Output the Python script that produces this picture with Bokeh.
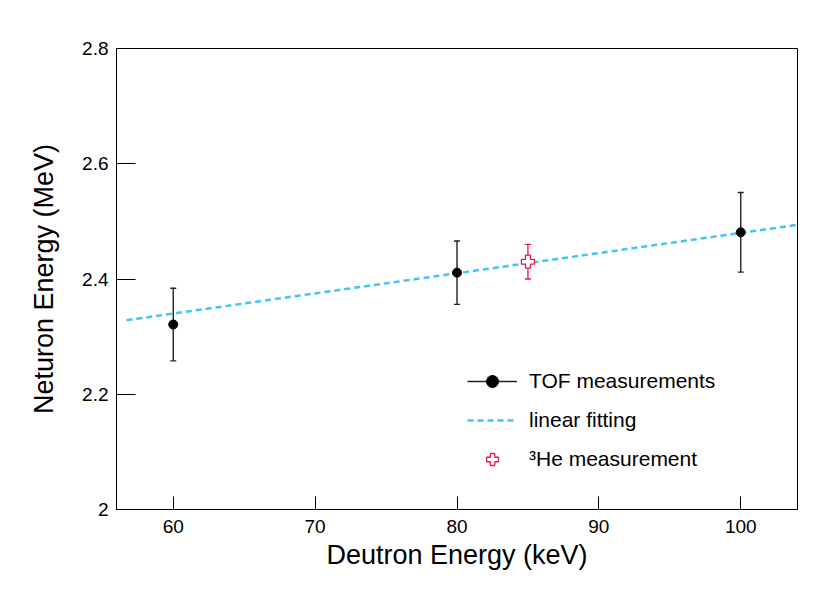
from bokeh.plotting import figure
from bokeh.models import Range1d, FixedTicker, Legend, LegendItem
from bokeh.embed import file_html
from bokeh.resources import INLINE

# TOF measurements
tof_x = [60, 80, 100]
tof_y = [2.321, 2.411, 2.481]
tof_err = [0.063, 0.055, 0.069]

# 3He measurement
he_x = [85]
he_y = [2.430]
he_err = [0.030]

# linear fit endpoints
fit_x = [56.7, 104.0]
fit_y = [2.3285, 2.494]

x_ticks = [60, 70, 80, 90, 100]
y_ticks = [2.0, 2.2, 2.4, 2.6, 2.8]
y_tick_labels = {2.0: "2", 2.2: "2.2", 2.4: "2.4", 2.6: "2.6", 2.8: "2.8"}

FONT = "Liberation Sans"
LINE_C = "#3fc6f2"
RED = "#e31a4a"

p = figure(frame_width=681, frame_height=461, output_backend="svg",
           toolbar_location=None, x_range=Range1d(56, 104), y_range=Range1d(2.0, 2.8),
           min_border_left=116, min_border_right=25, min_border_top=48, min_border_bottom=81)
p.background_fill_color = "white"
p.border_fill_color = "white"
p.outline_line_color = "black"
p.outline_line_width = 1
p.grid.visible = False

# fit line
fit_r = p.line(fit_x, fit_y, line_color=LINE_C, line_width=2.5, line_dash="6 4")

# TOF error bars
lo = [y - e for y, e in zip(tof_y, tof_err)]
hi = [y + e for y, e in zip(tof_y, tof_err)]
seg_r = p.segment(x0=tof_x, y0=lo, x1=tof_x, y1=hi, line_color="#222222", line_width=1.4)
p.scatter(tof_x + tof_x, lo + hi, marker="dash", size=6, line_color="#222222", line_width=1.4)
tof_r = p.scatter(tof_x, tof_y, marker="circle", size=9, fill_color="black", line_color="black")

# He error bars
he_lo = [y - e for y, e in zip(he_y, he_err)]
he_hi = [y + e for y, e in zip(he_y, he_err)]
p.segment(x0=he_x, y0=he_lo, x1=he_x, y1=he_hi, line_color=RED, line_width=1.3)
p.scatter(he_x + he_x, he_lo + he_hi, marker="dash", size=6, line_color=RED, line_width=1.3)
he_r = p.scatter(he_x, he_y, marker="plus", size=13, fill_color="white", line_color=RED, line_width=1.3)

# axes
p.xaxis.ticker = FixedTicker(ticks=x_ticks)
p.yaxis.ticker = FixedTicker(ticks=y_ticks)
p.yaxis.major_label_overrides = y_tick_labels
for ax in (p.xaxis, p.yaxis):
    ax.minor_tick_line_color = None
    ax.major_tick_out = 0
    ax.axis_line_color = "black"
    ax.major_tick_line_color = "black"
    ax.major_label_text_font = FONT
    ax.major_label_text_font_size = "19px"
    ax.major_label_text_color = "black"
    ax.axis_label_text_font = FONT
    ax.axis_label_text_font_size = "27px"
    ax.axis_label_text_font_style = "normal"
    ax.axis_label_text_color = "black"
p.xaxis.major_tick_in = 13
p.yaxis.major_tick_in = 19
p.xaxis.major_label_standoff = 10
p.yaxis.major_label_standoff = 8
p.xaxis.axis_label = "Deutron Energy (keV)"
p.yaxis.axis_label = "Neturon Energy (MeV)"
p.xaxis.axis_label_standoff = 4
p.yaxis.axis_label_standoff = 20

legend = Legend(items=[
    LegendItem(label="TOF measurements", renderers=[seg_r, tof_r]),
    LegendItem(label="linear fitting", renderers=[fit_r]),
    LegendItem(label="³He measurement", renderers=[he_r]),
], location=(351, 35))
legend.border_line_color = None
legend.background_fill_alpha = 0
legend.padding = 0
legend.margin = 0
legend.glyph_width = 50
legend.glyph_height = 30
legend.spacing = 9
legend.label_standoff = 12
legend.label_text_font = FONT
legend.label_text_font_size = "21px"
legend.label_text_color = "black"
legend.label_height = 30
p.add_layout(legend, "center")

open("out.html", "w").write(file_html(p, INLINE))
